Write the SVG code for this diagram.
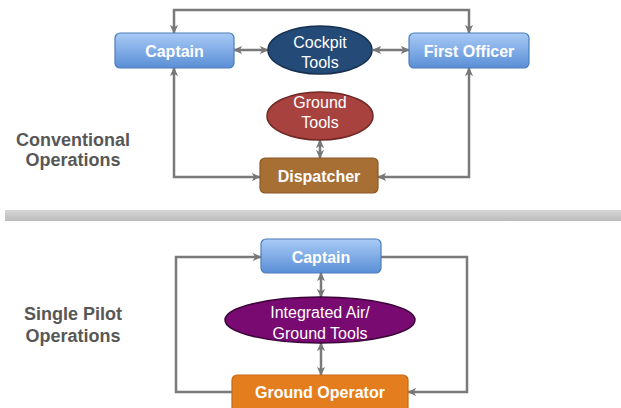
<svg xmlns="http://www.w3.org/2000/svg" width="621" height="408" viewBox="0 0 621 408">
<defs>
<linearGradient id="blue" x1="0" y1="0" x2="0" y2="1">
<stop offset="0" stop-color="#a9cbf6"/>
<stop offset="1" stop-color="#5a8ed6"/>
</linearGradient>
<linearGradient id="bar" x1="0" y1="0" x2="0" y2="1">
<stop offset="0" stop-color="#d6d6d6"/>
<stop offset="1" stop-color="#bcbcbc"/>
</linearGradient>
<marker id="ah" viewBox="0 0 10 10" refX="9" refY="5" markerWidth="9" markerHeight="9" markerUnits="userSpaceOnUse" orient="auto-start-reverse">
<path d="M0,0.5 L10,5 L0,9.5 L2.5,5 z" fill="#777"/>
</marker>
</defs>
<style>
.conn{fill:none;stroke:#7a7a7a;stroke-width:2.5}
.dbl{marker-start:url(#ah);marker-end:url(#ah)}
.one{marker-end:url(#ah)}
.bbox{fill:url(#blue);stroke:#4d7cba;stroke-width:1.2}
.t{font-family:"Liberation Sans",Arial,sans-serif;font-size:16px;fill:#fff;text-anchor:middle}
.b{font-weight:bold}
.sec{font-family:"Liberation Sans",Arial,sans-serif;font-size:18px;font-weight:bold;fill:#575757;text-anchor:middle}
</style>
<rect x="5" y="210" width="616" height="11" fill="url(#bar)"/>
<text class="sec" x="73" y="146">Conventional</text>
<text class="sec" x="73" y="166">Operations</text>
<text class="sec" x="73" y="320">Single Pilot</text>
<text class="sec" x="73" y="342">Operations</text>
<g id="connectors">
<path class="conn dbl" d="M174,33 V10 H469 V33"/>
<path class="conn dbl" d="M234,50 H268"/>
<path class="conn dbl" d="M373,50 H409"/>
<path class="conn dbl" d="M320,140 V158"/>
<path class="conn dbl" d="M174,68 V177 H260"/>
<path class="conn dbl" d="M469,68 V177 H378"/>
<path class="conn one" d="M232,392 H176 V257 H261"/>
<path class="conn one" d="M381,257 H467 V392 H408"/>
<path class="conn dbl" d="M321,273 V297"/>
<path class="conn dbl" d="M321,343 V375"/>
</g>
<g id="captain1">
<rect class="bbox" x="115" y="33" width="119" height="35" rx="5"/>
<text class="t b" x="174.5" y="57">Captain</text>
</g>
<g id="firstofficer">
<rect class="bbox" x="409" y="33" width="120" height="35" rx="5"/>
<text class="t b" x="469" y="57">First Officer</text>
</g>
<g id="cockpittools">
<ellipse cx="320" cy="50" rx="52" ry="24" fill="#244a78" stroke="#17304f" stroke-width="1.5"/>
<text class="t" x="320" y="48">Cockpit</text>
<text class="t" x="320" y="68">Tools</text>
</g>
<g id="groundtools">
<ellipse cx="320" cy="116" rx="53" ry="24" fill="#a8423f" stroke="#6e2826" stroke-width="1.5"/>
<text class="t" x="320" y="108">Ground</text>
<text class="t" x="320" y="128">Tools</text>
</g>
<g id="dispatcher">
<rect x="260" y="158" width="118" height="35" rx="5" fill="#a86f34" stroke="#8a5726" stroke-width="1.2"/>
<text class="t b" x="319" y="182">Dispatcher</text>
</g>
<g id="captain2">
<rect class="bbox" x="261" y="239" width="120" height="34" rx="5"/>
<text class="t b" x="321" y="263">Captain</text>
</g>
<g id="integrated">
<ellipse cx="320" cy="320" rx="95" ry="23" fill="#780a72" stroke="#3c0539" stroke-width="1.5"/>
<text class="t" x="320" y="318">Integrated Air/</text>
<text class="t" x="320" y="339">Ground Tools</text>
</g>
<g id="groundoperator">
<rect x="232" y="375" width="176" height="40" rx="5" fill="#e47d1e" stroke="#c96a14" stroke-width="1.2"/>
<text class="t b" x="320" y="398">Ground Operator</text>
</g>
</svg>
